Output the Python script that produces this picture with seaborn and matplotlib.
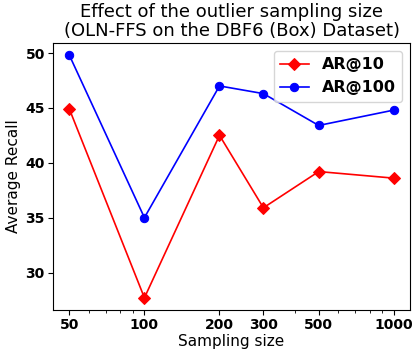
import matplotlib.pyplot as plt
import seaborn as sns
import pandas as pd

sizes = [50, 100, 200, 300, 500, 1000]
ar10 = [44.9, 27.7, 42.5, 35.9, 39.2, 38.6]
ar100 = [49.8, 35.0, 47.0, 46.3, 43.4, 44.8]

df = pd.DataFrame({'size': sizes, 'AR@10': ar10, 'AR@100': ar100})

fig, ax = plt.subplots(figsize=(4.15, 3.53), dpi=100)
sns.lineplot(ax=ax, data=df, x='size', y='AR@10', color='red', marker='D',
             markersize=6, markeredgecolor='red', linewidth=1.2, label='AR@10')
sns.lineplot(ax=ax, data=df, x='size', y='AR@100', color='blue', marker='o',
             markersize=6, markeredgecolor='blue', linewidth=1.2, label='AR@100')

ax.set_xscale('log')
ax.set_xticks(sizes)
ax.set_xticklabels([str(s) for s in sizes])
ax.set_yticks([30, 35, 40, 45, 50])
ax.tick_params(axis='both', which='major', labelsize=10, pad=2.5)
for lab in ax.get_xticklabels() + ax.get_yticklabels():
    lab.set_fontweight('bold')

ax.set_xlabel('Sampling size', fontsize=11, labelpad=1)
ax.set_ylabel('Average Recall', fontsize=11, labelpad=3)
ax.set_title('Effect of the outlier sampling size\n(OLN-FFS on the DBF6 (Box) Dataset)',
             fontsize=13, linespacing=1.1, pad=5)
ax.legend(loc='upper right', prop={'weight': 'bold', 'size': 11.5}, handlelength=1.8)

plt.subplots_adjust(left=0.128, right=0.988, top=0.878, bottom=0.122)
plt.savefig('out.png', dpi=100)
